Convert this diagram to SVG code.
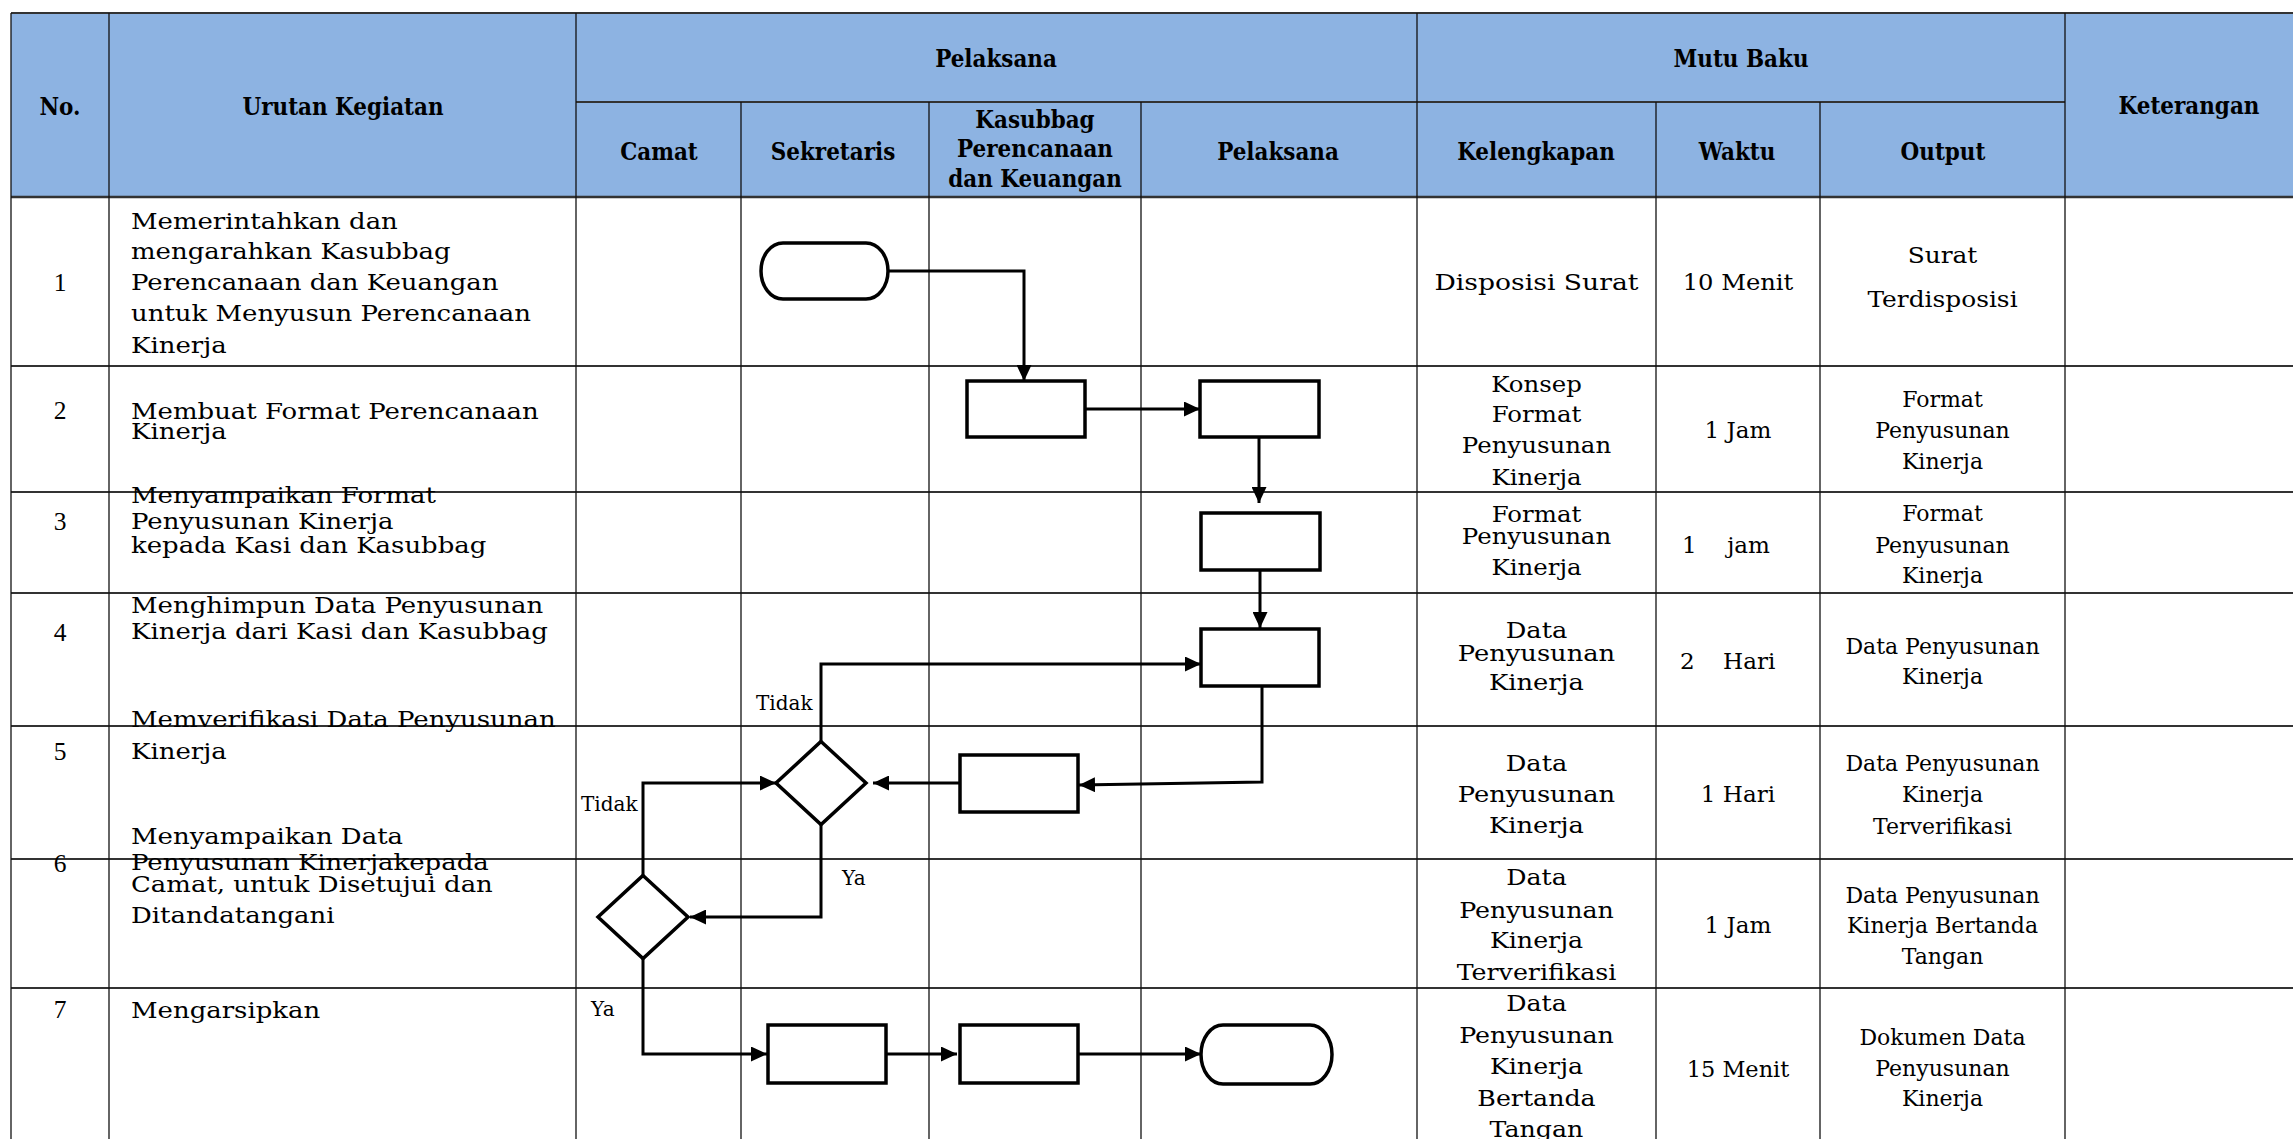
<svg xmlns="http://www.w3.org/2000/svg" width="2293" height="1139" viewBox="0 0 2293 1139">
<style>
.hd{font-family:"DejaVu Serif",serif;font-weight:bold;font-size:25px;text-anchor:middle;fill:#000}
.bt{font-family:"DejaVu Serif",serif;font-size:22px;fill:#000}
.c{text-anchor:middle}
.num{font-family:"Liberation Serif",serif;font-size:25.5px;text-anchor:middle;fill:#000}
.lbl{font-family:"DejaVu Serif",serif;font-size:20px;fill:#000}
.shape{fill:#fff;stroke:#000;stroke-width:3.5}
.conn{fill:none;stroke:#000;stroke-width:3;marker-end:url(#ah)}
.gv{stroke:#111;stroke-width:1.3}
.gh{stroke:#333;stroke-width:2}
</style>
<defs>
<marker id="ah" markerWidth="16" markerHeight="15" refX="16" refY="7.5" orient="auto" markerUnits="userSpaceOnUse">
<path d="M0,0 L16,7.5 L0,15 z" fill="#000"/>
</marker>
</defs>
<rect width="2293" height="1139" fill="#fff"/>
<g id="table">
<rect x="11" y="13" width="2282" height="184" fill="#8DB3E2"/>
<line class="gh" x1="11" y1="13" x2="2293" y2="13"/>
<line class="gh" x1="576" y1="102" x2="2065" y2="102"/>
<line class="gh" x1="11" y1="197" x2="2293" y2="197" style="stroke-width:2.6"/>
<line class="gh" x1="11" y1="366" x2="2293" y2="366"/>
<line class="gh" x1="11" y1="492" x2="2293" y2="492"/>
<line class="gh" x1="11" y1="593" x2="2293" y2="593"/>
<line class="gh" x1="11" y1="726" x2="2293" y2="726"/>
<line class="gh" x1="11" y1="859" x2="2293" y2="859"/>
<line class="gh" x1="11" y1="988" x2="2293" y2="988"/>
<line class="gv" x1="11" y1="13" x2="11" y2="1139"/>
<line class="gv" x1="109" y1="13" x2="109" y2="1139"/>
<line class="gv" x1="576" y1="13" x2="576" y2="1139"/>
<line class="gv" x1="741" y1="102" x2="741" y2="1139"/>
<line class="gv" x1="929" y1="102" x2="929" y2="1139"/>
<line class="gv" x1="1141" y1="102" x2="1141" y2="1139"/>
<line class="gv" x1="1417" y1="13" x2="1417" y2="1139"/>
<line class="gv" x1="1656" y1="102" x2="1656" y2="1139"/>
<line class="gv" x1="1820" y1="102" x2="1820" y2="1139"/>
<line class="gv" x1="2065" y1="13" x2="2065" y2="1139"/>
</g>
<g id="header">
<text class="hd" transform="translate(60,0) scale(0.86,1)"><tspan x="0" y="115">No.</tspan></text>
<text class="hd" transform="translate(343,0) scale(0.86,1)"><tspan x="0" y="115">Urutan Kegiatan</tspan></text>
<text class="hd" transform="translate(996,0) scale(0.86,1)"><tspan x="0" y="67">Pelaksana</tspan></text>
<text class="hd" transform="translate(1741,0) scale(0.86,1)"><tspan x="0" y="67">Mutu Baku</tspan></text>
<text class="hd" transform="translate(2189,0) scale(0.86,1)"><tspan x="0" y="114">Keterangan</tspan></text>
<text class="hd" transform="translate(659,0) scale(0.86,1)"><tspan x="0" y="160">Camat</tspan></text>
<text class="hd" transform="translate(833,0) scale(0.86,1)"><tspan x="0" y="160">Sekretaris</tspan></text>
<text class="hd" transform="translate(1035,0) scale(0.86,1)"><tspan x="0" y="128">Kasubbag</tspan><tspan x="0" y="157">Perencanaan</tspan><tspan x="0" y="187">dan Keuangan</tspan></text>
<text class="hd" transform="translate(1278,0) scale(0.86,1)"><tspan x="0" y="160">Pelaksana</tspan></text>
<text class="hd" transform="translate(1536,0) scale(0.86,1)"><tspan x="0" y="160">Kelengkapan</tspan></text>
<text class="hd" transform="translate(1737,0) scale(0.86,1)"><tspan x="0" y="160">Waktu</tspan></text>
<text class="hd" transform="translate(1943,0) scale(0.86,1)"><tspan x="0" y="160">Output</tspan></text>
</g>
<g id="numbers">
<text class="num" x="60" y="291">1</text>
<text class="num" x="60" y="419">2</text>
<text class="num" x="60" y="530">3</text>
<text class="num" x="60" y="641">4</text>
<text class="num" x="60" y="760">5</text>
<text class="num" x="60" y="872">6</text>
<text class="num" x="60" y="1018">7</text>
</g>
<g id="urutan">
<text class="bt" transform="translate(131,0) scale(1.18,1)"><tspan x="0" y="229">Memerintahkan dan</tspan><tspan x="0" y="259">mengarahkan Kasubbag</tspan><tspan x="0" y="290">Perencanaan dan Keuangan</tspan><tspan x="0" y="321.5">untuk Menyusun Perencanaan</tspan><tspan x="0" y="353">Kinerja</tspan></text>
<text class="bt" transform="translate(131,0) scale(1.18,1)"><tspan x="0" y="419">Membuat Format Perencanaan</tspan><tspan x="0" y="439">Kinerja</tspan></text>
<text class="bt" transform="translate(131,0) scale(1.18,1)"><tspan x="0" y="503">Menyampaikan Format</tspan><tspan x="0" y="529">Penyusunan Kinerja</tspan><tspan x="0" y="553">kepada Kasi dan Kasubbag</tspan></text>
<text class="bt" transform="translate(131,0) scale(1.18,1)"><tspan x="0" y="613">Menghimpun Data Penyusunan</tspan><tspan x="0" y="639.5">Kinerja dari Kasi dan Kasubbag</tspan></text>
<text class="bt" transform="translate(131,0) scale(1.18,1)"><tspan x="0" y="727">Memverifikasi Data Penyusunan</tspan><tspan x="0" y="759">Kinerja</tspan></text>
<text class="bt" transform="translate(131,0) scale(1.18,1)"><tspan x="0" y="844">Menyampaikan Data</tspan><tspan x="0" y="870">Penyusunan Kinerjakepada</tspan><tspan x="0" y="892">Camat, untuk Disetujui dan</tspan><tspan x="0" y="923">Ditandatangani</tspan></text>
<text class="bt" transform="translate(131,0) scale(1.18,1)"><tspan x="0" y="1018">Mengarsipkan</tspan></text>
</g>
<g id="kelengkapan">
<text class="bt c" transform="translate(1536.5,0) scale(1.21,1)"><tspan x="0" y="290">Disposisi Surat</tspan></text>
<text class="bt c" transform="translate(1536.5,0) scale(1.11,1)"><tspan x="0" y="392">Konsep</tspan><tspan x="0" y="422">Format</tspan><tspan x="0" y="453">Penyusunan</tspan><tspan x="0" y="485">Kinerja</tspan></text>
<text class="bt c" transform="translate(1536.5,0) scale(1.11,1)"><tspan x="0" y="522">Format</tspan><tspan x="0" y="544">Penyusunan</tspan><tspan x="0" y="575">Kinerja</tspan></text>
<text class="bt c" transform="translate(1536.5,0) scale(1.17,1)"><tspan x="0" y="638.5">Data</tspan><tspan x="0" y="661">Penyusunan</tspan><tspan x="0" y="690">Kinerja</tspan></text>
<text class="bt c" transform="translate(1536.5,0) scale(1.17,1)"><tspan x="0" y="771">Data</tspan><tspan x="0" y="802">Penyusunan</tspan><tspan x="0" y="833">Kinerja</tspan></text>
<text class="bt c" transform="translate(1536.5,0) scale(1.15,1)"><tspan x="0" y="885">Data</tspan><tspan x="0" y="918">Penyusunan</tspan><tspan x="0" y="948">Kinerja</tspan><tspan x="0" y="980">Terverifikasi</tspan></text>
<text class="bt c" transform="translate(1536.5,0) scale(1.15,1)"><tspan x="0" y="1011.5">Data</tspan><tspan x="0" y="1043.5">Penyusunan</tspan><tspan x="0" y="1074.5">Kinerja</tspan><tspan x="0" y="1106">Bertanda</tspan><tspan x="0" y="1137">Tangan</tspan></text>
</g>
<g id="waktu">
<text class="bt c" transform="translate(1738,0) scale(1.1,1)"><tspan x="0" y="290">10 Menit</tspan></text>
<text class="bt c" transform="translate(1738,0) scale(1.05,1)"><tspan x="0" y="438">1 Jam</tspan></text>
<text class="bt" transform="translate(1682,0) scale(1.05,1)"><tspan x="0" y="553">1</tspan><tspan x="43" y="553">jam</tspan></text>
<text class="bt" transform="translate(1680,0) scale(1.05,1)"><tspan x="0" y="669">2</tspan><tspan x="41" y="669">Hari</tspan></text>
<text class="bt c" transform="translate(1738,0) scale(1.05,1)"><tspan x="0" y="802">1 Hari</tspan></text>
<text class="bt c" transform="translate(1738,0) scale(1.05,1)"><tspan x="0" y="933">1 Jam</tspan></text>
<text class="bt c" transform="translate(1738,0) scale(1.02,1)"><tspan x="0" y="1077">15 Menit</tspan></text>
</g>
<g id="output">
<text class="bt c" transform="translate(1942.5,0) scale(1.13,1)"><tspan x="0" y="263">Surat</tspan><tspan x="0" y="307">Terdisposisi</tspan></text>
<text class="bt c" transform="translate(1942.5,0)"><tspan x="0" y="407">Format</tspan><tspan x="0" y="438">Penyusunan</tspan><tspan x="0" y="469">Kinerja</tspan></text>
<text class="bt c" transform="translate(1942.5,0)"><tspan x="0" y="521">Format</tspan><tspan x="0" y="553">Penyusunan</tspan><tspan x="0" y="583">Kinerja</tspan></text>
<text class="bt c" transform="translate(1942.5,0)"><tspan x="0" y="654">Data Penyusunan</tspan><tspan x="0" y="684">Kinerja</tspan></text>
<text class="bt c" transform="translate(1942.5,0)"><tspan x="0" y="771">Data Penyusunan</tspan><tspan x="0" y="802">Kinerja</tspan><tspan x="0" y="834">Terverifikasi</tspan></text>
<text class="bt c" transform="translate(1942.5,0)"><tspan x="0" y="903">Data Penyusunan</tspan><tspan x="0" y="933">Kinerja Bertanda</tspan><tspan x="0" y="964">Tangan</tspan></text>
<text class="bt c" transform="translate(1942.5,0)"><tspan x="0" y="1045">Dokumen Data</tspan><tspan x="0" y="1076">Penyusunan</tspan><tspan x="0" y="1106">Kinerja</tspan></text>
</g>
<g id="connectors">
<path class="conn" d="M888,271 L1024,271 L1024,381"/>
<path class="conn" d="M1085,409 L1200,409"/>
<path class="conn" d="M1259,437 L1259,503"/>
<path class="conn" d="M1260,570 L1260,628"/>
<path class="conn" d="M821,741 L821,664 L1201,664"/>
<path class="conn" d="M1262,686 L1262,782 L1079,785"/>
<path class="conn" d="M960,783 L873,783"/>
<path class="conn" d="M821,824 L821,917 L690,917"/>
<path class="conn" d="M643,875 L643,783 L776,783"/>
<path class="conn" d="M643,958 L643,1054 L767,1054"/>
<path class="conn" d="M886,1054 L957,1054"/>
<path class="conn" d="M1078,1054 L1201,1054"/>
<text class="lbl" x="756" y="710">Tidak</text>
<text class="lbl" x="581" y="811">Tidak</text>
<text class="lbl" x="842" y="885">Ya</text>
<text class="lbl" x="591" y="1016">Ya</text>
</g>
<g id="n-start"><rect class="shape" x="761" y="243" width="127" height="56" rx="22" ry="28"/></g>
<g id="n-kasubbag-2"><rect class="shape" x="967" y="381" width="118" height="56"/></g>
<g id="n-pelaksana-2"><rect class="shape" x="1200" y="381" width="119" height="56"/></g>
<g id="n-pelaksana-3"><rect class="shape" x="1201" y="513" width="119" height="57"/></g>
<g id="n-pelaksana-4"><rect class="shape" x="1201" y="629" width="118" height="57"/></g>
<g id="n-kasubbag-5"><rect class="shape" x="960" y="755" width="118" height="57"/></g>
<g id="n-decision-sekretaris"><polygon class="shape" points="821,741.5 866,783 821,824.5 776,783"/></g>
<g id="n-decision-camat"><polygon class="shape" points="643,875.5 688,917 643,958.5 598,917"/></g>
<g id="n-sekretaris-7"><rect class="shape" x="768" y="1025" width="118" height="58"/></g>
<g id="n-kasubbag-7"><rect class="shape" x="960" y="1025" width="118" height="58"/></g>
<g id="n-end"><rect class="shape" x="1201" y="1025" width="131" height="59" rx="22" ry="29.5"/></g>
</svg>
